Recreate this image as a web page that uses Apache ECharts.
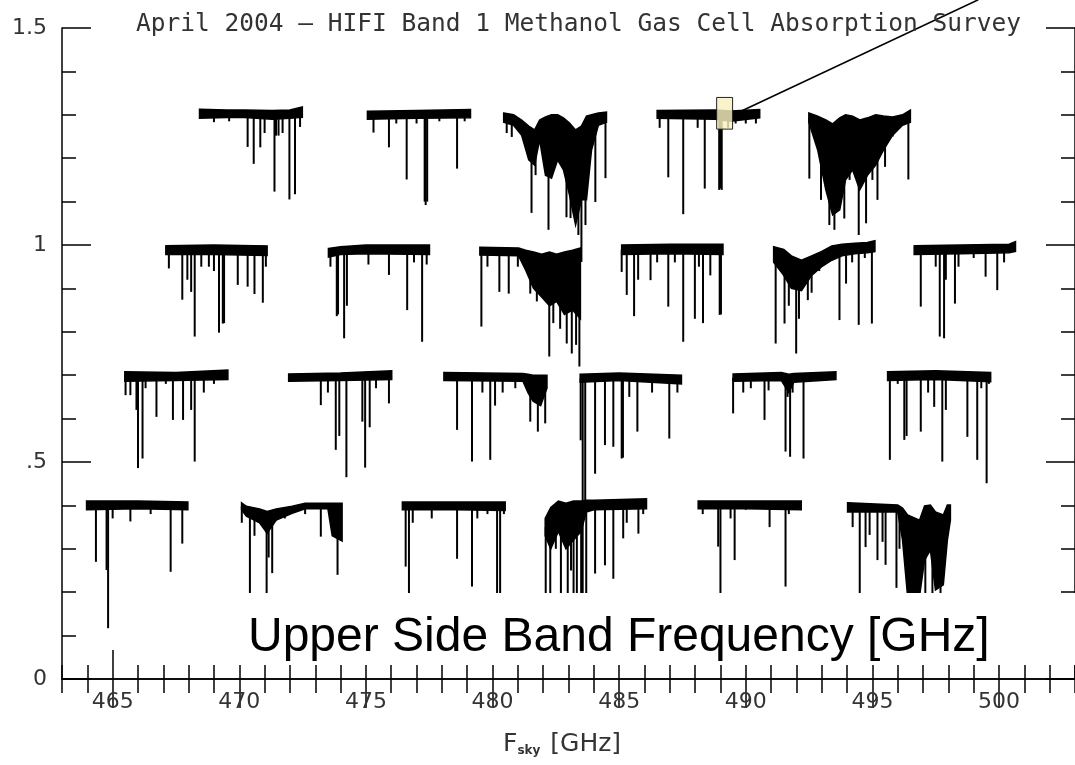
<!DOCTYPE html>
<html><head><meta charset="utf-8">
<script src="https://cdn.jsdelivr.net/npm/echarts@6/dist/echarts.min.js"></script>
<style>html,body{margin:0;padding:0;background:#fff}#c{width:1075px;height:765px}</style>
</head><body><div id="c"></div><script>
// ---- tick labels ----
const xTickValues = [465, 470, 475, 480, 485, 490, 495, 500];
const xTickLabels = ['465', '470', '475', '480', '485', '490', '495', '500'];
const yTickValues = [0, 0.5, 1, 1.5];
const yTickLabels = ['0', '.5', '1', '1.5'];

// ---- spectra: band = [freq, bandTop, bandBottom]; lines = [freq, lineMinimum] ----
// Row 1 (offset ~1.30)
const band_r1_1 = [[468.43,1.313,1.292],[469.5,1.311,1.294],[470.2,1.311,1.294],[471.3,1.310,1.290],[472.0,1.311,1.292],[472.49,1.318,1.294]];
const lines_r1_1 = [[469.0,1.283],[469.6,1.285],[470.33,1.226],[470.57,1.187],[470.83,1.225],[471.0,1.258],[471.39,1.123],[471.45,1.252],[471.55,1.252],[471.71,1.258],[471.98,1.105],[472.2,1.117],[472.4,1.272]];
const band_r1_2 = [[475.06,1.308,1.290],[477.0,1.310,1.292],[479.13,1.312,1.293]];
const lines_r1_2 = [[475.3,1.259],[475.91,1.225],[476.2,1.280],[476.61,1.151],[477.0,1.280],[477.32,1.100],[477.36,1.092],[477.42,1.100],[477.9,1.285],[478.6,1.176],[478.9,1.285]];
const band_r1_3 = [[480.44,1.304,1.283],[480.83,1.300,1.276],[481.15,1.288,1.253],[481.43,1.274,1.196],[481.66,1.265,1.184],[481.86,1.288,1.242],[482.09,1.295,1.161],[482.33,1.300,1.154],[482.57,1.300,1.196],[482.80,1.293,1.173],[483.04,1.281,1.115],[483.28,1.265,1.046],[483.51,1.274,1.104],[483.71,1.297,1.104],[483.91,1.300,1.219],[484.18,1.304,1.276],[484.5,1.306,1.283]];
const lines_r1_3 = [[480.56,1.258],[480.76,1.249],[481.54,1.074],[481.70,1.161],[482.21,1.035],[482.92,1.064],[483.08,1.062],[483.20,1.115],[483.39,1.023],[483.51,0.961],[483.67,1.046],[484.06,1.099],[484.46,1.154]];
const band_r1_4 = [[486.5,1.310,1.292],[488.8,1.311,1.290],[489.4,1.309,1.285],[490.55,1.312,1.293]];
const lines_r1_4 = [[486.6,1.270],[486.94,1.156],[487.53,1.071],[488.1,1.270],[488.38,1.130],[488.95,1.127],[489.0,1.130],[489.05,1.127],[489.3,1.270],[489.6,1.280],[490.0,1.280],[490.4,1.280]];
const band_r1_5 = [[492.49,1.304,1.283],[492.84,1.297,1.219],[493.16,1.288,1.127],[493.43,1.279,1.069],[493.71,1.293,1.081],[493.94,1.300,1.150],[494.22,1.297,1.173],[494.50,1.288,1.127],[494.81,1.293,1.161],[495.13,1.300,1.184],[495.44,1.297,1.219],[495.80,1.295,1.253],[496.19,1.300,1.276],[496.50,1.311,1.283]];
const lines_r1_5 = [[492.51,1.153],[492.97,1.104],[493.3,1.046],[493.5,1.035],[493.89,1.061],[494.1,1.150],[494.46,1.023],[494.75,1.050],[495.0,1.150],[495.2,1.104],[495.5,1.180],[495.8,1.250],[496.42,1.151]];

// Row 2 (offset ~0.99)
const band_r2_1 = [[467.1,0.998,0.978],[469.0,1.000,0.978],[471.1,0.998,0.976]];
const lines_r2_1 = [[467.22,0.946],[467.75,0.874],[467.95,0.920],[468.1,0.892],[468.24,0.789],[468.5,0.950],[468.8,0.950],[469.0,0.940],[469.2,0.798],[469.35,0.819],[469.4,0.820],[469.94,0.908],[470.33,0.904],[470.6,0.887],[470.93,0.867],[471.05,0.950]];
const band_r2_2 = [[473.52,0.992,0.972],[474.0,0.996,0.978],[475.0,1.000,0.980],[477.51,1.000,0.978]];
const lines_r2_2 = [[473.6,0.950],[473.85,0.836],[473.9,0.840],[474.14,0.785],[474.25,0.860],[475.1,0.955],[475.91,0.931],[476.63,0.850],[476.9,0.960],[477.22,0.777],[477.4,0.955]];
const band_r2_3 = [[479.50,0.995,0.977],[481.03,0.993,0.975],[481.31,0.988,0.942],[481.62,0.984,0.900],[481.94,0.979,0.880],[482.25,0.984,0.860],[482.53,0.979,0.870],[482.84,0.984,0.840],[483.16,0.988,0.850],[483.47,0.993,0.830]];
const lines_r2_3 = [[479.56,0.812],[479.8,0.950],[480.27,0.892],[480.64,0.888],[481.0,0.950],[481.49,0.888],[481.75,0.870],[482.24,0.743],[482.4,0.820],[482.67,0.807],[482.93,0.773],[483.13,0.750],[483.3,0.770],[483.43,0.720]];
const band_r2_4 = [[485.1,1.000,0.978],[487.0,1.002,0.980],[489.1,1.002,0.978]];
const lines_r2_4 = [[485.1,0.938],[485.3,0.885],[485.59,0.836],[485.75,0.920],[486.24,0.919],[486.5,0.960],[486.94,0.858],[487.2,0.960],[487.53,0.777],[487.99,0.830],[488.15,0.950],[488.31,0.820],[488.6,0.930],[488.97,0.839],[489.02,0.840]];
const band_r2_5 = [[491.1,0.996,0.960],[491.5,0.990,0.930],[491.8,0.975,0.900],[492.2,0.965,0.895],[492.6,0.975,0.930],[493.0,0.985,0.950],[493.4,0.998,0.965],[493.8,1.002,0.975],[494.3,1.004,0.980],[494.8,1.006,0.982],[495.1,1.010,0.985]];
const lines_r2_5 = [[491.18,0.773],[491.53,0.819],[491.7,0.860],[491.99,0.750],[492.1,0.830],[492.45,0.873],[492.6,0.890],[492.9,0.940],[493.7,0.827],[493.96,0.911],[494.2,0.960],[494.46,0.816],[494.7,0.970],[494.98,0.819]];
const band_r2_6 = [[496.65,0.998,0.978],[498.5,1.000,0.980],[500.4,1.002,0.982],[500.65,1.008,0.985]];
const lines_r2_6 = [[496.91,0.858],[497.5,0.950],[497.66,0.789],[497.83,0.785],[497.9,0.920],[498.26,0.865],[498.4,0.950],[499.0,0.970],[499.47,0.927],[499.93,0.896],[500.2,0.960]];

// Row 3 (offset ~0.70)
const band_r3_1 = [[465.48,0.708,0.686],[467.5,0.706,0.688],[469.55,0.712,0.690]];
const lines_r3_1 = [[465.51,0.654],[465.7,0.654],[465.94,0.620],[466.0,0.486],[466.18,0.508],[466.3,0.670],[466.73,0.604],[467.1,0.680],[467.38,0.597],[467.78,0.597],[468.1,0.620],[468.24,0.501],[468.6,0.660],[469.0,0.680]];
const band_r3_2 = [[471.95,0.703,0.686],[474.0,0.705,0.688],[476.02,0.710,0.690]];
const lines_r3_2 = [[473.22,0.631],[473.5,0.660],[473.81,0.528],[473.95,0.560],[474.23,0.465],[474.86,0.593],[474.97,0.487],[475.15,0.580],[475.4,0.670],[475.91,0.635]];
const band_r3_3 = [[478.08,0.706,0.688],[481.2,0.704,0.686],[481.4,0.702,0.660],[481.6,0.700,0.640],[481.9,0.700,0.630],[482.15,0.700,0.670]];
const lines_r3_3 = [[478.6,0.574],[479.19,0.501],[479.6,0.660],[479.91,0.505],[480.1,0.630],[480.4,0.660],[480.9,0.670],[481.49,0.593],[481.79,0.570],[482.08,0.589]];
const band_r3_4 = [[483.46,0.702,0.684],[485.0,0.705,0.688],[487.46,0.700,0.680]];
const lines_r3_4 = [[483.48,0.550],[483.56,0.190],[483.66,0.412],[484.05,0.473],[484.44,0.539],[484.77,0.535],[485.1,0.508],[485.15,0.510],[485.4,0.650],[485.72,0.570],[486.3,0.660],[486.98,0.554],[487.3,0.660]];
const band_r3_5 = [[489.5,0.703,0.686],[491.4,0.706,0.688],[491.7,0.702,0.660],[491.9,0.704,0.684],[493.56,0.708,0.690]];
const lines_r3_5 = [[489.5,0.612],[489.9,0.660],[490.2,0.670],[490.74,0.597],[490.9,0.665],[491.57,0.524],[491.65,0.650],[491.75,0.512],[491.85,0.660],[492.28,0.508]];
const band_r3_6 = [[495.6,0.708,0.688],[497.5,0.710,0.690],[499.67,0.706,0.685]];
const lines_r3_6 = [[495.69,0.505],[496.0,0.680],[496.26,0.551],[496.35,0.560],[496.91,0.570],[497.2,0.660],[497.44,0.627],[497.76,0.501],[497.9,0.620],[498.75,0.558],[499.14,0.505],[499.3,0.670],[499.51,0.451],[499.6,0.680]];

// Row 4 (offset ~0.40)
const band_r4_1 = [[463.97,0.410,0.390],[466.0,0.410,0.392],[467.97,0.408,0.390]];
const lines_r4_1 = [[464.1,0.390],[464.34,0.270],[464.76,0.251],[464.82,0.117],[465.0,0.370],[465.7,0.363],[466.5,0.380],[467.29,0.247],[467.75,0.312]];
const band_r4_2 = [[470.09,0.406,0.390],[470.28,0.398,0.375],[470.8,0.392,0.360],[471.1,0.386,0.336],[471.46,0.392,0.366],[472.09,0.398,0.382],[472.6,0.405,0.392],[473.5,0.405,0.392],[473.67,0.405,0.330],[474.06,0.405,0.318]];
const lines_r4_2 = [[470.1,0.360],[470.42,0.190],[470.6,0.330],[471.08,0.190],[471.16,0.280],[471.3,0.244],[471.8,0.370],[472.6,0.380],[473.22,0.328],[473.88,0.240],[474.0,0.320]];
const band_r4_3 = [[476.44,0.408,0.390],[478.5,0.408,0.390],[480.5,0.408,0.388]];
const lines_r4_3 = [[476.57,0.259],[476.7,0.190],[476.85,0.360],[477.6,0.370],[478.6,0.277],[479.19,0.213],[479.4,0.370],[479.8,0.380],[480.18,0.190],[480.3,0.190],[480.45,0.380]];
const band_r4_4 = [[482.08,0.370,0.330],[482.3,0.395,0.300],[482.6,0.410,0.340],[482.9,0.405,0.300],[483.2,0.410,0.320],[483.5,0.410,0.340],[483.7,0.412,0.385],[484.0,0.412,0.390],[486.08,0.415,0.392]];
const lines_r4_4 = [[482.1,0.190],[482.28,0.190],[482.5,0.300],[482.7,0.190],[482.97,0.190],[483.1,0.250],[483.2,0.190],[483.33,0.190],[483.5,0.190],[483.7,0.190],[484.05,0.243],[484.44,0.262],[484.77,0.231],[485.16,0.324],[485.3,0.360],[485.76,0.335],[485.95,0.380]];
const band_r4_5 = [[488.12,0.410,0.392],[490.0,0.410,0.392],[492.19,0.410,0.390]];
const lines_r4_5 = [[488.3,0.380],[488.91,0.305],[489.0,0.190],[489.4,0.370],[489.56,0.274],[490.0,0.390],[490.94,0.350],[491.57,0.213],[491.7,0.380]];
const band_r4_6 = [[494.02,0.406,0.385],[496.0,0.401,0.385],[496.19,0.394,0.320],[496.39,0.378,0.190],[496.86,0.366,0.190],[497.06,0.399,0.274],[497.29,0.401,0.297],[497.49,0.385,0.205],[497.80,0.378,0.217],[497.96,0.401,0.320],[498.08,0.401,0.366]];
const lines_r4_6 = [[494.22,0.350],[494.50,0.190],[494.73,0.304],[494.89,0.332],[495.20,0.274],[495.40,0.316],[495.52,0.263],[495.95,0.210],[496.07,0.300],[496.78,0.190],[497.09,0.190],[497.37,0.190],[497.69,0.190]];

// ---- annotation: highlighted box [f0, f1, v0, v1] and pointer line start/end ----
const highlightBox = [488.85, 489.48, 1.267, 1.340];
const pointerStart = [489.62, 1.303];
const pointerEnd = [499.18, 1.565];

const segments = [
  [band_r1_1, lines_r1_1], [band_r1_2, lines_r1_2], [band_r1_3, lines_r1_3], [band_r1_4, lines_r1_4], [band_r1_5, lines_r1_5],
  [band_r2_1, lines_r2_1], [band_r2_2, lines_r2_2], [band_r2_3, lines_r2_3], [band_r2_4, lines_r2_4], [band_r2_5, lines_r2_5], [band_r2_6, lines_r2_6],
  [band_r3_1, lines_r3_1], [band_r3_2, lines_r3_2], [band_r3_3, lines_r3_3], [band_r3_4, lines_r3_4], [band_r3_5, lines_r3_5], [band_r3_6, lines_r3_6],
  [band_r4_1, lines_r4_1], [band_r4_2, lines_r4_2], [band_r4_3, lines_r4_3], [band_r4_4, lines_r4_4], [band_r4_5, lines_r4_5], [band_r4_6, lines_r4_6]
];

function nearestMid(band, f) {
  let best = band[0];
  for (const p of band) if (Math.abs(p[0] - f) < Math.abs(best[0] - f)) best = p;
  return (best[1] + best[2]) / 2;
}
const spikeData = [];
segments.forEach(([band, lines]) => lines.forEach(([f, m]) => spikeData.push([f, nearestMid(band, f), m])));
const bandData = segments.map((s, i) => [s[0][0][0], s[0][0][1], i]);

const AX = '#000';
const labelFont = { fontFamily: 'DejaVu Sans', fontSize: 22, color: '#333' };
const xBase = { type: 'value', min: 463, max: 503, gridIndex: 0, splitLine: { show: false } };
const yBase = { type: 'value', min: 0, max: 1.5, gridIndex: 0, splitLine: { show: false } };

const chart = echarts.init(document.getElementById('c'), null, { renderer: 'canvas' });
chart.setOption({
  animation: false,
  backgroundColor: '#fff',
  grid: { left: 62, top: 28, width: 1016, height: 651, containLabel: false },
  xAxis: [
    Object.assign({}, xBase, { position: 'bottom', interval: 1,
      axisLine: { show: true, lineStyle: { color: AX, width: 1.5 } },
      axisTick: { show: true, inside: true, length: 14, lineStyle: { color: AX, width: 1.5 } },
      axisLabel: Object.assign({ show: true, margin: 12, customValues: xTickValues,
        formatter: v => xTickLabels[xTickValues.indexOf(v)] }, labelFont) }),
    Object.assign({}, xBase, { position: 'bottom', axisLine: { show: false },
      axisTick: { show: true, inside: true, length: 29, customValues: xTickValues, lineStyle: { color: AX, width: 1.5 } },
      axisLabel: { show: false } }),
    Object.assign({}, xBase, { position: 'top', interval: 1,
      axisLine: { show: true, lineStyle: { color: AX, width: 1.5 } },
      axisTick: { show: true, inside: true, length: 14, lineStyle: { color: AX, width: 1.5 } },
      axisLabel: { show: false } }),
    Object.assign({}, xBase, { position: 'top', axisLine: { show: false },
      axisTick: { show: true, inside: true, length: 29, customValues: xTickValues, lineStyle: { color: AX, width: 1.5 } },
      axisLabel: { show: false } })
  ],
  yAxis: [
    Object.assign({}, yBase, { position: 'left', interval: 0.1,
      axisLine: { show: true, lineStyle: { color: AX, width: 1.5 } },
      axisTick: { show: true, inside: true, length: 14, lineStyle: { color: AX, width: 1.5 } },
      axisLabel: Object.assign({ show: true, margin: 15, customValues: yTickValues,
        formatter: v => yTickLabels[yTickValues.indexOf(v)] }, labelFont) }),
    Object.assign({}, yBase, { position: 'left', axisLine: { show: false },
      axisTick: { show: true, inside: true, length: 29, customValues: yTickValues, lineStyle: { color: AX, width: 1.5 } },
      axisLabel: { show: false } }),
    Object.assign({}, yBase, { position: 'right', interval: 0.1,
      axisLine: { show: true, lineStyle: { color: AX, width: 1.5 } },
      axisTick: { show: true, inside: true, length: 14, lineStyle: { color: AX, width: 1.5 } },
      axisLabel: { show: false } }),
    Object.assign({}, yBase, { position: 'right', axisLine: { show: false },
      axisTick: { show: true, inside: true, length: 29, customValues: yTickValues, lineStyle: { color: AX, width: 1.5 } },
      axisLabel: { show: false } })
  ],
  series: [
    {
      type: 'custom', name: 'bands', coordinateSystem: 'cartesian2d', xAxisIndex: 0, yAxisIndex: 0,
      clip: false, silent: true, encode: { x: 0, y: 1 }, data: bandData,
      renderItem: (params, api) => {
        const band = segments[api.value(2)][0];
        const pts = band.map(p => api.coord([p[0], p[1]]));
        for (let k = band.length - 1; k >= 0; k--) pts.push(api.coord([band[k][0], band[k][2]]));
        return { type: 'polygon', shape: { points: pts }, style: { fill: '#000', stroke: '#000', lineWidth: 1.5 } };
      }
    },
    {
      type: 'custom', name: 'lines', coordinateSystem: 'cartesian2d', xAxisIndex: 0, yAxisIndex: 0,
      clip: false, silent: true, encode: { x: 0, y: 1 }, data: spikeData,
      renderItem: (params, api) => {
        const a = api.coord([api.value(0), api.value(1)]);
        const b = api.coord([api.value(0), api.value(2)]);
        return { type: 'line', shape: { x1: a[0], y1: a[1], x2: b[0], y2: b[1] }, style: { stroke: '#000', lineWidth: 2 } };
      }
    },
    {
      type: 'custom', name: 'annotation', coordinateSystem: 'cartesian2d', xAxisIndex: 0, yAxisIndex: 0,
      clip: false, silent: true, z: 5, encode: { x: 0, y: 1 }, data: [[highlightBox[0], highlightBox[2]]],
      renderItem: (params, api) => {
        const p0 = api.coord([highlightBox[0], highlightBox[3]]);
        const p1 = api.coord([highlightBox[1], highlightBox[2]]);
        const s = api.coord(pointerStart);
        const e = api.coord(pointerEnd);
        return { type: 'group', children: [
          { type: 'rect', shape: { x: p0[0], y: p0[1], width: p1[0] - p0[0], height: p1[1] - p0[1] },
            style: { fill: 'rgba(246,240,190,0.82)', stroke: '#222', lineWidth: 1 } },
          { type: 'line', shape: { x1: s[0], y1: s[1], x2: e[0], y2: e[1] }, style: { stroke: '#000', lineWidth: 1.6 } }
        ] };
      }
    }
  ],
  graphic: [
    { type: 'text', left: 136, top: 12, z: 50, silent: true,
      style: { text: 'April 2004 – HIFI Band 1 Methanol Gas Cell Absorption Survey', fontFamily: 'DejaVu Sans Mono', fontSize: 24.5, fill: '#333' } },
    { type: 'rect', z: 100, silent: true, shape: { x: 230, y: 593, width: 850, height: 72 }, style: { fill: '#fff' } },
    { type: 'text', z: 101, silent: true, left: 248, top: 614,
      style: { text: 'Upper Side Band Frequency [GHz]', fontFamily: 'Liberation Sans, Arial, sans-serif', fontSize: 48, fill: '#000' } },
    { type: 'text', z: 101, silent: true, left: 503, top: 732,
      style: { text: '{f|F}{s|sky}   {f|[GHz]}', fill: '#333',
        rich: { f: { fontFamily: 'DejaVu Sans', fontSize: 25, color: '#333', verticalAlign: 'bottom', lineHeight: 30 },
                s: { fontFamily: 'DejaVu Sans', fontSize: 12, fontWeight: 'bold', color: '#333', verticalAlign: 'bottom', lineHeight: 20 } } } }
  ]
});
</script></body></html>
